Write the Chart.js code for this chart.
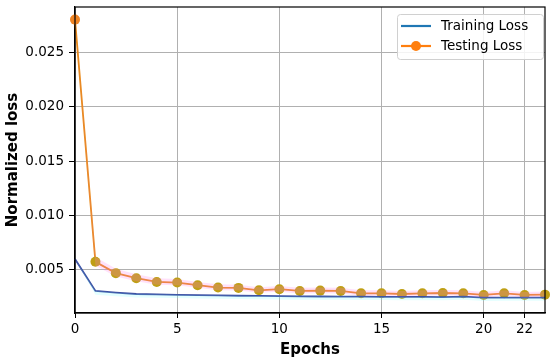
<!DOCTYPE html>
<html>
<head>
<meta charset="utf-8">
<script src="https://cdn.jsdelivr.net/npm/chart.js@4"></script>
<style>
html,body{margin:0;padding:0;background:#fff;}
#wrap{width:550px;height:362px;}
</style>
</head>
<body>
<div id="wrap"><canvas id="c" width="550" height="362"></canvas></div>
<script>
const epochs = [0,1,2,3,4,5,6,7,8,9,10,11,12,13,14,15,16,17,18,19,20,21,22,23];
const trainingLoss = [0.00601,0.00306,0.00290,0.00278,0.00274,0.00270,0.00267,0.00265,0.00262,0.00260,0.00258,0.00256,0.00255,0.00254,0.00253,0.00252,0.00251,0.00251,0.00250,0.00254,0.00244,0.00245,0.00245,0.00245];
const testingLoss = [0.02804,0.00574,0.00470,0.00423,0.00389,0.00383,0.00359,0.00337,0.00334,0.00312,0.00322,0.00306,0.00309,0.00306,0.00284,0.00284,0.00278,0.00284,0.00287,0.00284,0.00269,0.00284,0.00269,0.00272];
const testingSpread = [0,0.00045,0.00040,0.00036,0.00033,0.00032,0.00030,0.00030,0.00030,0.00029,0.00029,0.00029,0.00029,0.00029,0.00028,0.00028,0.00028,0.00028,0.00028,0.00028,0.00028,0.00028,0.00028,0.00028];
const trainingSpread = [0,0.00035,0.00033,0.00032,0.00031,0.00030,0.00030,0.00030,0.00030,0.00030,0.00030,0.00030,0.00030,0.00030,0.00030,0.00030,0.00030,0.00030,0.00030,0.00030,0.00030,0.00030,0.00030,0.00030];
const xTicks = [0,5,10,15,20,22];
const yTicks = [0.005,0.010,0.015,0.020,0.025];
const seriesNames = ['Training Loss','Testing Loss'];

const pts = a => epochs.map((e,i)=>({x:e,y:a[i]}));
const testUpper = epochs.map((e,i)=>({x:e,y:testingLoss[i]+testingSpread[i]}));
const testLower = epochs.map((e,i)=>({x:e,y:testingLoss[i]-testingSpread[i]*0.8}));
const trainUpper = epochs.map((e,i)=>({x:e,y:trainingLoss[i]}));
const trainLower = epochs.map((e,i)=>({x:e,y:trainingLoss[i]-trainingSpread[i]}));

const FONT = "'DejaVu Sans', sans-serif";

const framePlugin = {
  id:'frame',
  afterDraw(chart){
    const {ctx, chartArea:a} = chart;
    ctx.save();
    ctx.strokeStyle='#000'; ctx.lineWidth=1.2;
    ctx.strokeRect(a.left, a.top, a.right-a.left, a.bottom-a.top);
    // legend
    const bx = 397, by = 14, bw = 146, bh = 45;
    ctx.fillStyle='rgba(255,255,255,0.85)';
    ctx.strokeStyle='#d0d0d0'; ctx.lineWidth=1;
    ctx.beginPath();
    if (ctx.roundRect) ctx.roundRect(bx+0.5,by+0.5,bw,bh,3); else ctx.rect(bx+0.5,by+0.5,bw,bh);
    ctx.fill(); ctx.stroke();
    ctx.font = "13.5px "+FONT; ctx.fillStyle='#000'; ctx.textBaseline='middle'; ctx.textAlign='left';
    ctx.strokeStyle='#1f77b4'; ctx.lineWidth=2.2;
    ctx.beginPath(); ctx.moveTo(bx+4,by+12); ctx.lineTo(bx+34,by+12); ctx.stroke();
    ctx.fillText(seriesNames[0], bx+44, by+12);
    ctx.strokeStyle='#ff7f0e';
    ctx.beginPath(); ctx.moveTo(bx+4,by+32); ctx.lineTo(bx+34,by+32); ctx.stroke();
    ctx.fillStyle='#ff7f0e';
    ctx.beginPath(); ctx.arc(bx+19,by+32,5,0,Math.PI*2); ctx.fill();
    ctx.fillStyle='#000';
    ctx.fillText(seriesNames[1], bx+44, by+32);
    ctx.restore();
  }
};

new Chart(document.getElementById('c'), {
  type:'line',
  data:{
    datasets:[
      {label:'tu', data:testUpper, borderWidth:0, pointRadius:0, fill:false, borderColor:'rgba(0,0,0,0)'},
      {label:'tl', data:testLower, borderWidth:0, pointRadius:0, fill:'-1', backgroundColor:'rgba(255,120,230,0.22)', borderColor:'rgba(0,0,0,0)'},
      {label:'ru', data:trainUpper, borderWidth:0, pointRadius:0, fill:false, borderColor:'rgba(0,0,0,0)'},
      {label:'rl', data:trainLower, borderWidth:0, pointRadius:0, fill:'-1', backgroundColor:'rgba(120,255,255,0.2)', borderColor:'rgba(0,0,0,0)'},
      {label:seriesNames[0], data:pts(trainingLoss), borderColor:'#3d4fa3', borderWidth:1.8, pointRadius:0, fill:false, tension:0},
      {label:seriesNames[1], data:pts(testingLoss), borderColor:'#e88a1c', borderWidth:1.8, fill:false, tension:0,
       pointRadius:5, pointHoverRadius:5, pointBorderWidth:0,
       pointBackgroundColor: epochs.map((e,i)=> i===0 ? '#f08524' : '#bf9f14')}
    ]
  },
  options:{
    animation:false, responsive:false, devicePixelRatio:1,
    clip:false,
    layout:{padding:{top:7,right:5,left:0,bottom:0}},
    plugins:{legend:{display:false}, tooltip:{enabled:false}},
    scales:{
      x:{type:'linear', min:0, max:23,
        afterBuildTicks(s){ s.ticks = xTicks.map(v=>({value:v})); },
        afterFit(s){ s.height = 49; s.paddingLeft = 0; s.paddingRight = 0; },
        grid:{color:'#b0b0b0', lineWidth:1, drawTicks:true, tickLength:5, tickColor:'#000'},
        border:{display:true, color:'#000', width:1.2},
        ticks:{color:'#000', font:{family:FONT, size:13.5}, padding:3, maxRotation:0, callback:v=>String(v)},
        title:{display:true, text:'Epochs', color:'#000', font:{family:FONT, size:15, weight:'bold'}, padding:{top:0,bottom:3}}
      },
      y:{type:'linear', min:0.00103, max:0.0292,
        afterBuildTicks(s){ s.ticks = yTicks.map(v=>({value:v})); },
        afterFit(s){ s.width = 75; s.paddingTop = 0; s.paddingBottom = 0; },
        grid:{color:'#b0b0b0', lineWidth:1, drawTicks:true, tickLength:6, tickColor:'#000'},
        border:{display:true, color:'#000', width:1.2},
        ticks:{color:'#000', font:{family:FONT, size:13.5}, padding:5, callback:v=>v.toFixed(3)},
        title:{display:true, text:'Normalized loss', color:'#000', font:{family:FONT, size:15, weight:'bold'}, padding:{top:4,bottom:2}}
      }
    }
  },
  plugins:[framePlugin]
});
</script>
</body>
</html>
